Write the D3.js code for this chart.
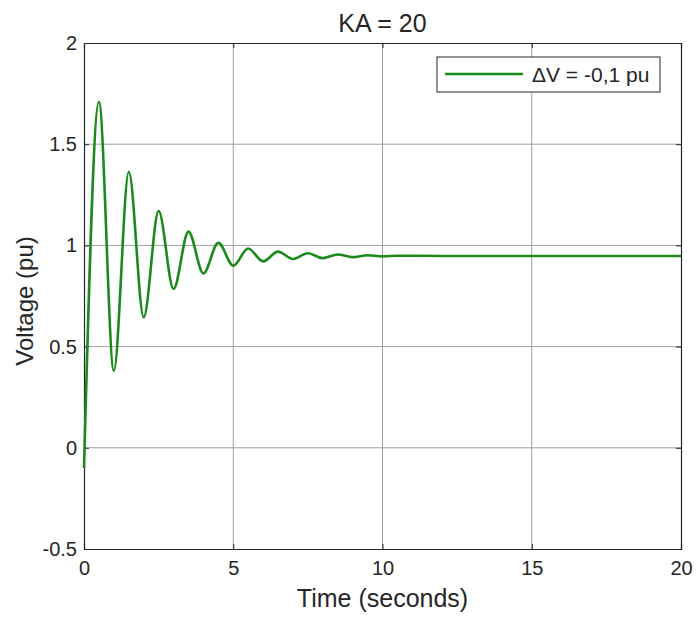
<!DOCTYPE html>
<html>
<head>
<meta charset="utf-8">
<script src="https://cdn.jsdelivr.net/npm/d3@7"></script>
<style>
  body { margin: 0; background: #fff; }
  text { font-family: "Liberation Sans", Arial, sans-serif; fill: #262626; }
</style>
</head>
<body>
<div id="chart"></div>
<script>
// values (turning points of the response)
const time = [0, 0.5, 1.0, 1.5, 2.0, 2.5, 3.0, 3.5, 4.0, 4.5, 5.0, 5.5, 6.0, 6.5, 7.0, 7.5, 8.0, 8.5, 9.0, 9.5, 10.0, 10.5, 12, 15, 20];
const voltage = [-0.1, 1.71, 0.38, 1.364, 0.645, 1.17, 0.785, 1.068, 0.862, 1.013, 0.9, 0.985, 0.921, 0.969, 0.933, 0.961, 0.937, 0.955, 0.942, 0.951, 0.946, 0.949, 0.948, 0.948, 0.948];
const xTicks = [0, 5, 10, 15, 20];
const yTicks = [-0.5, 0, 0.5, 1, 1.5, 2];
const title = "KA = 20";
const seriesName = "ΔV = -0,1 pu";

const W = 699, H = 617,
  margin = { top: 43, right: 18, bottom: 68, left: 84 },
  width = W - margin.left - margin.right,
  height = H - margin.top - margin.bottom,
  lineColor = "#1b8a1b",
  axisColor = "#262626";

const svg = d3.select("#chart").append("svg")
  .attr("width", W).attr("height", H);

const g = svg.append("g")
  .attr("transform", "translate(" + margin.left + "," + margin.top + ")");

const x = d3.scaleLinear().domain([0, 20]).range([0, width]);
const y = d3.scaleLinear().domain([-0.5, 2]).range([height, 0]);

// grid
g.selectAll(".vgrid").data(xTicks.slice(1, -1)).enter().append("line")
  .attr("x1", d => x(d)).attr("x2", d => x(d))
  .attr("y1", 0).attr("y2", height)
  .attr("stroke", "#a0a0a0").attr("stroke-width", 1);
g.selectAll(".hgrid").data(yTicks.slice(1, -1)).enter().append("line")
  .attr("x1", 0).attr("x2", width)
  .attr("y1", d => y(d)).attr("y2", d => y(d))
  .attr("stroke", "#a0a0a0").attr("stroke-width", 1);

// axes (MATLAB style: ticks inward, box around)
const xAxis = g.append("g").attr("transform", "translate(0," + height + ")")
  .call(d3.axisBottom(x).tickValues(xTicks).tickSize(-5).tickPadding(12).tickFormat(d3.format("d")));
const yAxis = g.append("g")
  .call(d3.axisLeft(y).tickValues(yTicks).tickSize(-5).tickPadding(7).tickFormat(d => String(d)));
g.append("g")
  .call(d3.axisTop(x).tickValues(xTicks).tickSize(-5).tickFormat(""));
g.append("g").attr("transform", "translate(" + width + ",0)")
  .call(d3.axisRight(y).tickValues(yTicks).tickSize(-5).tickFormat(""));

g.selectAll(".domain").attr("stroke", axisColor).attr("stroke-width", 1.2);
g.selectAll(".tick line").attr("stroke", axisColor);
g.selectAll(".tick text").style("font-size", "20px").attr("fill", "#333");
xAxis.selectAll(".tick text").attr("dy", "0.71em");

// the response
const pts = time.map((t, i) => [t, voltage[i]]);
g.append("path")
  .datum(pts)
  .attr("fill", "none")
  .attr("stroke", lineColor)
  .attr("stroke-width", 2.6)
  .attr("stroke-linejoin", "round")
  .attr("d", d3.line().x(d => x(d[0])).y(d => y(d[1])).curve(d3.curveMonotoneX));

// legend
const lg = g.append("g").attr("transform", "translate(" + (437 - margin.left) + "," + (57 - margin.top) + ")");
lg.append("rect").attr("width", 223).attr("height", 35)
  .attr("fill", "#fff").attr("stroke", axisColor).attr("stroke-width", 1);
lg.append("line").attr("x1", 8).attr("x2", 86).attr("y1", 17).attr("y2", 17)
  .attr("stroke", lineColor).attr("stroke-width", 2.6);
lg.append("text").attr("x", 95).attr("y", 25).style("font-size", "21px").text(seriesName);

// titles
svg.append("text").attr("x", margin.left + width / 2).attr("y", 32)
  .attr("text-anchor", "middle").style("font-size", "25px").text(title);
svg.append("text").attr("x", margin.left + width / 2).attr("y", 607)
  .attr("text-anchor", "middle").style("font-size", "25px").text("Time (seconds)");
svg.append("text")
  .attr("transform", "translate(33,301) rotate(-90)")
  .attr("text-anchor", "middle").style("font-size", "24px").text("Voltage (pu)");
</script>
</body>
</html>
